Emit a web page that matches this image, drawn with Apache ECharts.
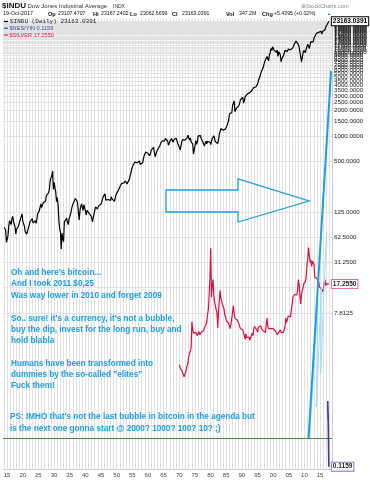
<!DOCTYPE html>
<html><head><meta charset="utf-8">
<script src="https://cdn.jsdelivr.net/npm/echarts@6/dist/echarts.min.js"></script>
<style>html,body{margin:0;padding:0;background:#fff}#c{width:370px;height:480px}</style>
</head><body><div id="c"></div>
<script>
// ---------- DATA ----------
// Dow Jones Industrial Average, quarterly readings 1914 .. Oct 2017
const dowStart = 1914.05;
const dowValues = [
 82,80,76,54, 56,65,85,98, 93,88,103,110, 96,97,83,68, 78,80,83,82, 84,103,108,118,
 95,91,84,72, 76,68,66,80, 86,95,100,98, 104,92,88,95, 98,91,104,120, 121,128,142,155,
 140,145,160,157, 160,168,195,200, 205,212,240,300, 315,335,381,230, 280,240,215,165,
 185,150,100,78, 72,45,70,60, 55,95,100,99, 105,93,88,103, 100,118,132,145,
 155,160,170,180, 190,170,155,120, 100,130,145,155, 140,130,152,150, 147,115,130,132,
 122,122,127,112, 105,95,108,119, 132,143,140,135, 140,148,145,152, 155,167,181,192,
 198,205,172,175, 176,175,178,181, 170,189,178,177, 175,166,182,200, 205,210,225,235,
 248,245,270,269, 266,275,270,291, 286,268,264,281, 304,334,361,404, 410,451,466,488,
 510,492,480,499, 475,503,456,435, 446,478,532,584, 602,643,632,679, 617,641,580,615,
 677,684,701,731, 707,561,579,652, 683,707,733,763, 813,831,875,874, 889,868,931,969,
 924,870,774,786, 865,860,927,905, 840,898,936,944, 935,873,813,800, 785,683,761,839,
 904,891,887,890, 940,929,953,1020, 951,891,947,851, 847,802,608,616, 768,879,794,852,
 1000,1003,990,1005, 920,916,847,831, 757,819,866,805, 862,842,878,839, 786,868,932,964,
 1004,977,850,875, 822,812,896,1047, 1130,1222,1233,1259, 1165,1133,1207,1212, 1267,1336,1329,1547,
 1819,1893,1768,1896, 2305,2419,2596,1939, 1988,2142,2113,2169, 2293,2440,2693,2753, 2707,2881,2453,2634,
 2914,2907,3017,3169, 3236,3319,3272,3301, 3436,3516,3555,3754, 3636,3625,3843,3834, 4158,4556,4789,5117,
 5588,5655,5882,6448, 6584,7673,7945,7908, 8800,8952,7843,9181, 9787,10971,10337,11497, 10922,10448,10651,10787,
 9879,10502,8848,10022, 10404,9243,7592,8342, 7992,8985,9275,10454, 10358,10435,10080,10783, 10504,10275,10569,10718,
 11109,11150,11679,12463, 12354,13409,13896,13265, 12263,11350,10851,8776, 7609,8447,9712,10428, 10857,9774,10788,11578,
 12320,12414,10913,12218, 13212,12880,13437,13104, 14579,14910,15130,16577, 16458,16827,17043,17823, 17776,17620,16285,17425,
 17685,17930,18308,19763, 20663,21350,22405,23163.0391
];
// Silver, quarterly readings 1970 .. Oct 2017
const silverStart = 1970.05;
const silverValues = [
 1.90,1.72,1.80,1.62, 1.70,1.58,1.36,1.40, 1.55,1.70,1.75,2.00, 2.40,2.55,2.80,3.00, 6.20,5.00,4.50,4.40,
 4.30,4.60,4.80,4.20, 4.30,4.70,4.30,4.40, 4.60,4.70,4.60,4.80, 5.20,5.40,5.70,6.10, 7.50,8.60,12.5,21.0,
 46.0,12.0,16.5,19.5, 12.5,10.5,9.5,8.5, 7.8,5.2,8.2,11.0, 14.5,11.8,11.4,9.8, 9.8,8.8,7.4,7.0,
 6.3,6.0,6.3,5.9, 5.8,5.1,5.8,5.5, 6.0,9.5,7.6,6.8, 6.5,7.1,6.4,6.2, 5.8,5.4,5.1,5.3,
 5.1,4.9,4.8,4.2, 3.8,4.4,4.0,3.9, 4.1,4.0,3.7,3.7, 3.6,4.5,4.2,5.0, 5.4,5.4,5.5,4.9,
 4.6,5.3,5.4,5.2, 5.5,5.1,4.9,4.8, 5.0,4.7,4.6,5.8, 6.8,5.4,5.1,5.0, 5.3,5.1,5.3,5.3,
 5.1,5.0,4.9,4.7, 4.5,4.3,4.3,4.6, 4.6,4.9,4.6,4.7, 4.5,4.6,5.0,5.4, 6.8,6.0,6.5,7.2,
 7.0,7.1,7.0,8.5, 9.8,12.0,11.5,13.0, 13.5,13.0,12.8,14.5, 19.5,17.0,12.5,10.0, 13.0,14.5,15.5,17.5,
 17.0,18.5,21.0,29.0, 34.0,47.0,38.0,31.0, 33.5,28.0,32.5,31.0, 29.5,21.0,22.0,20.0, 20.0,19.8,18.5,16.0,
 16.5,16.0,14.8,14.0, 15.2,17.5,19.5,16.5, 17.5,16.8,17.0,17.255
];
// $NES/YIN short series (2017)
const nesYears  = [2017.45, 2017.48, 2017.50, 2017.53, 2017.56, 2017.60, 2017.65, 2017.70, 2017.75, 2017.80];
const nesValues = [0.70, 0.50, 0.60, 0.42, 0.50, 0.38, 0.30, 0.20, 0.15, 0.1159];
// hand-drawn bitcoin line and its faint copies
const btcYears  = [2011.3, 2018.5];
const btcValues = [0.25, 5900];
const btcLightYears  = [2011.7, 2014.3, 2013.8, 2015.4, 2015.2, 2017.0];
const btcLightValues = [0.27, 11, 0.6, 16, 1.5, 70];
const btc2011Level = 0.25;
// axis ticks
const gridYears = []; for (let y = 1914; y <= 2018; y++) gridYears.push(y);
const labelYears = []; for (let y = 1915; y <= 2015; y += 5) labelYears.push(y);
const yLabelValues = [7.8125, 15.625, 31.25, 62.5, 125, 500, 1000, 1500, 2000, 2500, 3000, 3500, 4000, 4500,
  5000, 5500, 6000, 6500, 7000, 7500, 8000, 8500, 9000, 9500, 10000, 10500, 11000, 11500, 12000, 12500,
  13000, 13500, 14000, 14500, 15000, 15500, 16000, 16500, 17000, 17500, 18000, 18500, 19000, 19500,
  20000, 20500, 21000, 21500, 22000, 22500, 23000];

// ---------- CHART ----------
const pairs = (start, vals) => vals.map((v, i) => [i === vals.length - 1 ? 2017.8 : start + i * 0.25, v]);
const zip = (xs, ys) => xs.map((x, i) => [x, ys[i]]);

const FONT = 'Liberation Sans, Arial, sans-serif';
const blue = '#1c9fe2';

const notes = [
  ['Oh and here\'s bitcoin...', 272.7],
  ['And I took 2011 $0,25', 284],
  ['Was way lower in 2010 and forget 2009', 295.3],
  ['So.. sure! it\'s a currency, it\'s not a bubble,', 319],
  ['buy the dip, invest for the long run, buy and', 330],
  ['hold blabla', 341],
  ['Humans have been transformed into', 363.5],
  ['dummies by the so-called "elites"', 374.5],
  ['Fuck them!', 386],
  ['PS: IMHO that\'s not the last bubble in bitcoin in the agenda but', 417],
  ['is the next one gonna start @ 2000? 1000? 100? 10? ;)', 428.5]
];

function txt(x, y, text, opt) {
  return Object.assign({ type: 'text', x: x, y: y, z: 100, silent: true,
    style: Object.assign({ text: text, font: '6px ' + FONT, fill: '#111', stroke: 'none', lineWidth: 0,
      textVerticalAlign: 'middle' }, opt || {}) });
}

const graphics = [
  txt(2, 6, '$INDU', { font: 'bold 8px ' + FONT }),
  txt(27.5, 6.5, 'Dow Jones Industrial Average', { font: '6px ' + FONT, fill: '#333' }),
  txt(113, 6.5, 'INDX', { font: '5px ' + FONT, fill: '#333' }),
  txt(301, 6.5, '⊕StockCharts.com', { font: '5.6px ' + FONT, fill: '#888' }),
  txt(3, 14, '19-Oct-2017', { font: '5.4px ' + FONT }),
  txt(48, 14, 'Op', { font: 'bold 5.6px ' + FONT }),
  txt(58, 14, '23107.4707', { font: '5.2px ' + FONT }),
  txt(93, 14, 'Hi', { font: 'bold 5.6px ' + FONT }),
  txt(101, 14, '23167.2402', { font: '5.2px ' + FONT }),
  txt(130, 14, 'Lo', { font: 'bold 5.6px ' + FONT }),
  txt(140, 14, '23062.6699', { font: '5.2px ' + FONT }),
  txt(172, 14, 'Cl', { font: 'bold 5.6px ' + FONT }),
  txt(182, 14, '23163.0391', { font: '5.2px ' + FONT }),
  txt(226, 14, 'Vol', { font: 'bold 5.6px ' + FONT }),
  txt(239, 14, '347.2M', { font: '5.2px ' + FONT }),
  txt(262, 14, 'Chg', { font: 'bold 5.6px ' + FONT }),
  txt(274, 14, '+5.4395 (+0.02%)', { font: '5.2px ' + FONT }),
  txt(327, 14, '▲', { font: '4px ' + FONT, fill: '#2a9a2a' }),
  // legend
  { type: 'line', z: 100, silent: true, shape: { x1: 4, y1: 21.5, x2: 8, y2: 21.5 }, style: { stroke: '#000', lineWidth: 1.2 } },
  txt(10, 21.8, '$INDU (Daily) 23163.0391', { font: '6px "Liberation Mono", monospace', fill: '#222' }),
  { type: 'line', z: 100, silent: true, shape: { x1: 4, y1: 28.3, x2: 8, y2: 28.3 }, style: { stroke: '#4646b4', lineWidth: 1.2 } },
  txt(9.5, 28.5, '$NES/YIN 0.1159', { font: '5.6px ' + FONT, fill: '#4646b4' }),
  { type: 'line', z: 100, silent: true, shape: { x1: 4, y1: 35, x2: 8, y2: 35 }, style: { stroke: '#e01850', lineWidth: 1.2 } },
  txt(9.5, 35.2, '$SILVER 17.2550', { font: '5.6px ' + FONT, fill: '#e01850' }),
  // arrow annotation
  { type: 'polygon', silent: true, z: 100,
    shape: { points: [[166, 190], [238, 190], [238, 179], [309, 201], [238, 222], [238, 212], [166, 212]] },
    style: { fill: 'none', stroke: blue, lineWidth: 1.3 } }
];
notes.forEach(n => graphics.push(txt(n[0].startsWith('PS') || n[0].startsWith('is the') ? 10 : 11, n[1], n[0],
  { font: 'bold 8.2px ' + FONT, fill: blue })));

const endLbl = (border, color) => ({
  show: true, formatter: p => p.value[1].toFixed(4), distance: 3,
  fontSize: 6.5, fontWeight: 'bold', fontFamily: FONT, color: color,
  backgroundColor: '#fff', borderColor: border, borderWidth: 1, padding: [1, 1, 0, 1]
});

const option = {
  animation: false,
  backgroundColor: '#fff',
  grid: { left: 3, right: 38, top: 18, bottom: 11, containLabel: false },
  xAxis: {
    type: 'value', min: 1913.7, max: 2018.8,
    axisLine: { show: true, lineStyle: { color: '#cfcfcf' } },
    axisTick: { show: false },
    axisLabel: { customValues: labelYears, fontSize: 6, color: '#444', fontFamily: FONT, margin: 3,
      formatter: v => String(Math.round(v) % 100).padStart(2, '0') },
    splitLine: { show: false }
  },
  yAxis: {
    type: 'log', logBase: 10, min: 0.1088, max: 25280, position: 'right',
    axisLine: { show: true, lineStyle: { color: '#cfcfcf' } },
    axisTick: { show: false },
    axisLabel: { customValues: yLabelValues, fontSize: 6.2, color: '#222', fontFamily: FONT, margin: 2,
      formatter: v => Number(v).toFixed(4), hideOverlap: false },
    splitLine: { show: false }
  },
  series: [
    { name: 'grid', type: 'line', data: [], silent: true, z: 1,
      markLine: { z: 1, silent: true, symbol: 'none', label: { show: false }, animation: false,
        lineStyle: { color: '#e2e2e2', width: 1, type: 'solid' },
        data: gridYears.map(y => ({ xAxis: y })).concat(yLabelValues.map(v => ({ yAxis: v }))) } },
    { name: 'btc2011', type: 'line', data: [], silent: true, z: 2,
      markLine: { z: 2, silent: true, symbol: 'none', label: { show: false },
        lineStyle: { color: '#4c8a3c', width: 1, type: 'solid' }, data: [{ yAxis: btc2011Level }] } },
    { name: '$SILVER', type: 'line', data: pairs(silverStart, silverValues), showSymbol: false, symbol: 'none',
      lineStyle: { color: '#d8123f', width: 1.2 }, endLabel: endLbl('#e06a8a', '#222'), z: 10 },
    { name: 'btcLight', type: 'line', data: zip(btcLightYears, btcLightValues), showSymbol: false, symbol: 'none',
      lineStyle: { color: '#a6dbf6', width: 1 }, z: 11 },
    { name: 'btc', type: 'line', data: zip(btcYears, btcValues), showSymbol: false, symbol: 'none',
      lineStyle: { color: blue, width: 2 }, z: 12 },
    { name: '$NES/YIN', type: 'line', data: zip(nesYears, nesValues), showSymbol: false, symbol: 'none',
      lineStyle: { color: '#3b3ba6', width: 1.6 }, endLabel: endLbl('#7a7acc', '#222'), z: 13 },
    { name: '$INDU', type: 'line', data: pairs(dowStart, dowValues), showSymbol: false, symbol: 'none',
      lineStyle: { color: '#000', width: 1.2 }, endLabel: endLbl('#000', '#000'), z: 14 }
  ],
  graphic: graphics
};

const chart = echarts.init(document.getElementById('c'), null, { renderer: 'canvas' });
chart.setOption(option);
</script>
</body></html>
